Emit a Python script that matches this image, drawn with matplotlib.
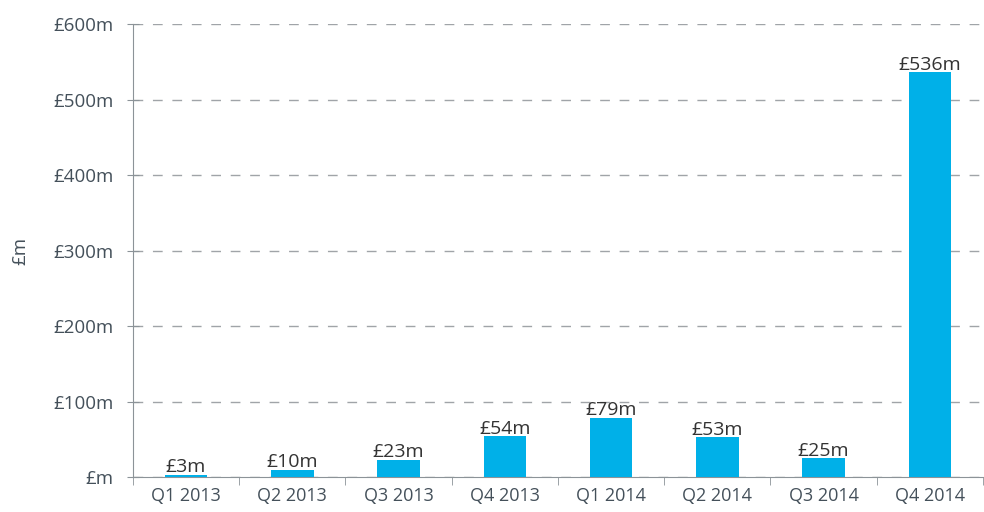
import numpy as np
import matplotlib.pyplot as plt

quarters = ["Q1 2013", "Q2 2013", "Q3 2013", "Q4 2013",
            "Q1 2014", "Q2 2014", "Q3 2014", "Q4 2014"]
values = [3, 10, 23, 54, 79, 53, 25, 536]
labels = ["£3m", "£10m", "£23m", "£54m", "£79m", "£53m", "£25m", "£536m"]
yticks = [0, 100, 200, 300, 400, 500, 600]
ytick_labels = ["£m", "£100m", "£200m", "£300m", "£400m", "£500m", "£600m"]

plt.rcParams['font.family'] = ['Open Sans', 'DejaVu Sans']
text_col = "#44505a"
axis_col = "#8c9398"

fig = plt.figure(figsize=(9.84, 5.12), dpi=100)
ax = fig.add_axes([0.135, 0.068, 0.864, 0.885])

x = np.arange(len(quarters))
ax.bar(x, values, width=0.4, color="#00b0e8", zorder=3)
for xi, v, lab in zip(x, values, labels):
    ax.text(xi, v - 2, lab, ha="center", va="bottom", fontsize=14,
            color="#333333", zorder=4)

ax.set_xlim(-0.5, len(quarters) - 0.5)
ax.set_ylim(0, 600)
ax.set_yticks(yticks)
ax.set_yticklabels(ytick_labels)
ax.set_xticks(x)
ax.set_xticklabels(quarters)
ax.set_xticks(np.arange(-0.5, len(quarters)), minor=True)
ax.tick_params(axis="x", which="major", length=0, pad=7,
               labelsize=13, labelcolor=text_col)
ax.tick_params(axis="x", which="minor", length=6, color=axis_col)
ax.tick_params(axis="y", direction="inout", length=8, color=axis_col,
               labelsize=13.5, labelcolor=text_col, pad=10)

ax.yaxis.grid(True, linestyle=(0, (7, 7)), color="#a0a4a8", linewidth=1)
ax.set_axisbelow(True)
for s in ["top", "right"]:
    ax.spines[s].set_visible(False)
for s in ["left", "bottom"]:
    ax.spines[s].set_color(axis_col)

ax.set_ylabel("£m", fontsize=13.5, color=text_col, labelpad=17)

fig.savefig("out.png", dpi=100)
